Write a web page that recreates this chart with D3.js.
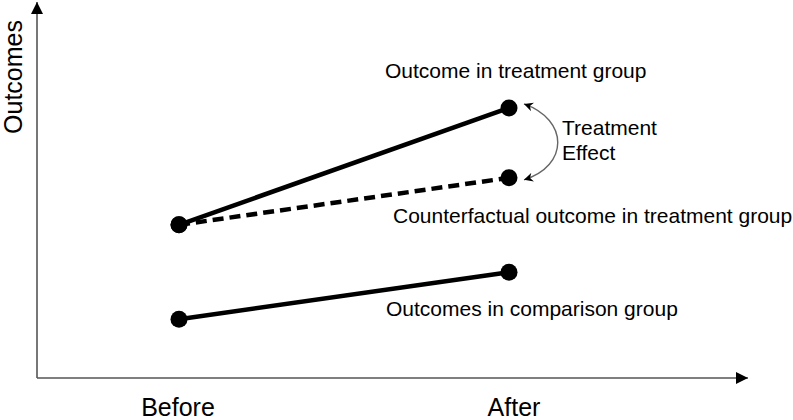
<!DOCTYPE html>
<html><head><meta charset="utf-8">
<script src="https://cdn.jsdelivr.net/npm/d3@7"></script>
<style>body{margin:0;background:#fff}svg{display:block}text{font-family:"Liberation Sans",Arial,sans-serif;fill:#000}</style>
</head><body><svg id="c" width="793" height="420"></svg>
<script>
const categories = ["Before", "After"];
const treatment = [41.4, 73.0];
const counterfactual = [41.4, 54.1];
const comparison = [15.9, 28.6];
const seriesLabels = ["Outcome in treatment group", "Counterfactual outcome in treatment group", "Outcomes in comparison group"];
const yLabel = "Outcomes";
const effectLabel = ["Treatment", "Effect"];

const svg = d3.select("#c");
const x = d3.scalePoint().domain(categories).range([179, 509]);
const y = d3.scaleLinear().domain([0, 100]).range([378, 8]);

const defs = svg.append("defs");
defs.append("marker").attr("id","ax").attr("viewBox","0 0 10 10").attr("refX",10).attr("refY",5)
  .attr("markerWidth",12).attr("markerHeight",12).attr("markerUnits","userSpaceOnUse").attr("orient","auto")
  .append("path").attr("d","M0,0L10,5L0,10Z").attr("fill","#000");
defs.append("marker").attr("id","ar").attr("viewBox","0 0 10 10").attr("refX",10).attr("refY",5)
  .attr("markerWidth",11).attr("markerHeight",9).attr("markerUnits","userSpaceOnUse").attr("orient","auto")
  .append("path").attr("d","M0,0L10,5L0,10L3,5Z").attr("fill","#000");
defs.append("marker").attr("id","ars").attr("viewBox","0 0 10 10").attr("refX",10).attr("refY",5)
  .attr("markerWidth",11).attr("markerHeight",9).attr("markerUnits","userSpaceOnUse").attr("orient","auto-start-reverse")
  .append("path").attr("d","M0,0L10,5L0,10L3,5Z").attr("fill","#000");

// axes
svg.append("line").attr("x1",37).attr("y1",y(0)).attr("x2",37).attr("y2",2)
  .attr("stroke","#555").attr("stroke-width",1.6).attr("marker-end","url(#ax)");
svg.append("line").attr("x1",37).attr("y1",y(0)).attr("x2",748).attr("y2",y(0))
  .attr("stroke","#555").attr("stroke-width",1.6).attr("marker-end","url(#ax)");

// tick labels
svg.selectAll(".tick").data(categories).join("text")
  .attr("x", (d,i) => x(d) + (i ? 5 : -1)).attr("y", 416)
  .attr("text-anchor","middle").attr("font-size",25).text(d => d);
svg.append("text").attr("transform","translate(22,77) rotate(-90)")
  .attr("text-anchor","middle").attr("font-size",25).text(yLabel);

const line = d3.line().x((d,i) => x(categories[i])).y(d => y(d));
svg.append("path").attr("d", line(counterfactual)).attr("fill","none").attr("stroke","#000")
  .attr("stroke-width",4.5).attr("stroke-dasharray","11,6");
svg.append("path").attr("d", line(treatment)).attr("fill","none").attr("stroke","#000").attr("stroke-width",4.5);
svg.append("path").attr("d", line(comparison)).attr("fill","none").attr("stroke","#000").attr("stroke-width",4.5);

const pts = [];
[treatment, counterfactual, comparison].forEach(s => s.forEach((v,i) => pts.push([categories[i], v])));
svg.selectAll(".pt").data(pts).join("circle")
  .attr("cx", d => x(d[0])).attr("cy", d => y(d[1])).attr("r", 8.5).attr("fill","#000");

// treatment effect curved arrow
const xa = x("After");
const yt = y(treatment[1]), yc = y(counterfactual[1]);
svg.append("path")
  .attr("d", `M${xa+15},${yt-4} C${xa+60},${yt+12} ${xa+60},${yc-12} ${xa+15},${yc+2}`)
  .attr("fill","none").attr("stroke","#666").attr("stroke-width",1.4)
  .attr("marker-start","url(#ars)").attr("marker-end","url(#ar)");

// labels
svg.append("text").attr("x", 385).attr("y", 78).attr("font-size",21).text(seriesLabels[0]);
svg.append("text").attr("x", 393).attr("y", 223).attr("font-size",21).text(seriesLabels[1]);
svg.append("text").attr("x", 386).attr("y", 316).attr("font-size",21).text(seriesLabels[2]);
svg.selectAll(".eff").data(effectLabel).join("text")
  .attr("x", 562).attr("y", (d,i) => 135 + i*25).attr("font-size",21).text(d => d);
</script></body></html>
